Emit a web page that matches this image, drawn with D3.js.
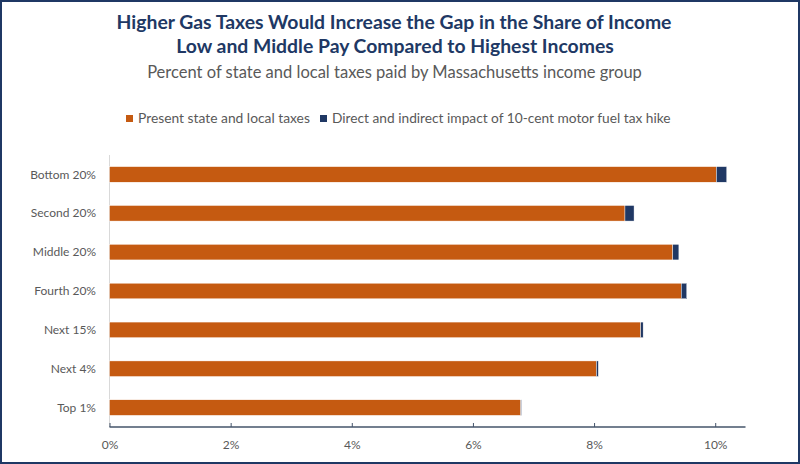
<!DOCTYPE html>
<html><head><meta charset="utf-8">
<script src="https://cdn.jsdelivr.net/npm/d3@7"></script>
<style>html,body{margin:0;padding:0;background:#fff;}svg{display:block;font-family:Lato,"Open Sans",sans-serif;}</style>
</head><body>
<svg id="c" width="800" height="464"></svg>
<script>
const categories = ["Bottom 20%","Second 20%","Middle 20%","Fourth 20%","Next 15%","Next 4%","Top 1%"];
const presentTaxes = [10.02, 8.51, 9.30, 9.44, 8.77, 8.04, 6.79];
const fuelTaxImpact = [0.17, 0.15, 0.10, 0.09, 0.04, 0.03, 0.01];
const seriesNames = ["Present state and local taxes","Direct and indirect impact of 10-cent motor fuel tax hike"];
const xTicks = [0, 2, 4, 6, 8, 10];
const titleLines = ["Higher Gas Taxes Would Increase the Gap in the Share of Income","Low and Middle Pay Compared to Highest Incomes"];
const subtitle = "Percent of state and local taxes paid by Massachusetts income group";

const colors = ["#C55A11", "#203864"];
const svg = d3.select("#c");

function fit(sel, w){
  const n = sel.node(); const fs = parseFloat(sel.attr("font-size"));
  const m = n.getComputedTextLength();
  if (m > 0) sel.attr("font-size", (fs * w / m).toFixed(2));
}

// border
svg.append("rect").attr("x",1).attr("y",1).attr("width",798).attr("height",462)
  .attr("fill","none").attr("stroke","#1F3864").attr("stroke-width",2);

// titles
const t1 = svg.append("text").attr("x",394).attr("y",29).attr("text-anchor","middle")
  .attr("font-size",18).attr("font-weight","bold").attr("fill","#203864").text(titleLines[0]);
fit(t1, 555);
const t2 = svg.append("text").attr("x",395).attr("y",53).attr("text-anchor","middle")
  .attr("font-size",18).attr("font-weight","bold").attr("fill","#203864").text(titleLines[1]);
fit(t2, 438);
const st = svg.append("text").attr("x",394.5).attr("y",77.5).attr("text-anchor","middle")
  .attr("font-size",15).attr("fill","#595959").text(subtitle);
fit(st, 495);

// legend
const legendX = [126, 320], legendW = [172, 339];
seriesNames.forEach((s,i)=>{
  svg.append("rect").attr("x",legendX[i]).attr("y",115).attr("width",7).attr("height",7).attr("fill",colors[i]);
  const lt = svg.append("text").attr("x",legendX[i]+12).attr("y",122.5).attr("font-size",13)
    .attr("fill","#595959").text(s);
  fit(lt, legendW[i]);
});

// scales
const x = d3.scaleLinear().domain([0, 10.5]).range([109.5, 745.5]);
const y = d3.scaleBand().domain(categories).range([155, 427]).paddingInner(0.6).paddingOuter(0.3);

// y axis line
svg.append("line").attr("x1",x(0)).attr("x2",x(0)).attr("y1",155).attr("y2",427)
  .attr("stroke","#D9D9D9").attr("stroke-width",1);

// bars
const data = categories.map((c,i)=>({c, a:presentTaxes[i], b:fuelTaxImpact[i]}));
const g = svg.append("g");
g.selectAll("rect.a").data(data).join("rect").attr("class","a")
  .attr("x",x(0)).attr("y",d=>y(d.c)).attr("width",d=>x(d.a)-x(0)).attr("height",y.bandwidth())
  .attr("fill",colors[0]).attr("stroke","#fff").attr("stroke-width",0.4);
g.selectAll("rect.b").data(data).join("rect").attr("class","b")
  .attr("x",d=>x(d.a)).attr("y",d=>y(d.c)).attr("width",d=>x(d.a+d.b)-x(d.a)).attr("height",y.bandwidth())
  .attr("fill",colors[1]).attr("stroke","#fff").attr("stroke-width",0.4);

// y labels
svg.append("g").selectAll("text").data(categories).join("text")
  .attr("x",96).attr("y",d=>y(d)+y.bandwidth()/2).attr("dy","0.35em").attr("text-anchor","end")
  .attr("font-size",12).attr("fill","#595959").text(d=>d);

// x axis
const xa = svg.append("g").attr("transform","translate(0,427)")
  .call(d3.axisBottom(x).tickValues(xTicks).tickSize(-4).tickFormat(d=>d+"%"));
xa.select(".domain").attr("stroke","#44546A").attr("stroke-width",1.5).attr("d","M109.5,0H745.5");
xa.selectAll(".tick line").attr("stroke","#44546A").attr("stroke-width",1);
xa.selectAll(".tick text").attr("font-size",12).attr("fill","#595959").attr("y",13)
  .attr("font-family","Lato,'Open Sans',sans-serif");
</script>
</body></html>
